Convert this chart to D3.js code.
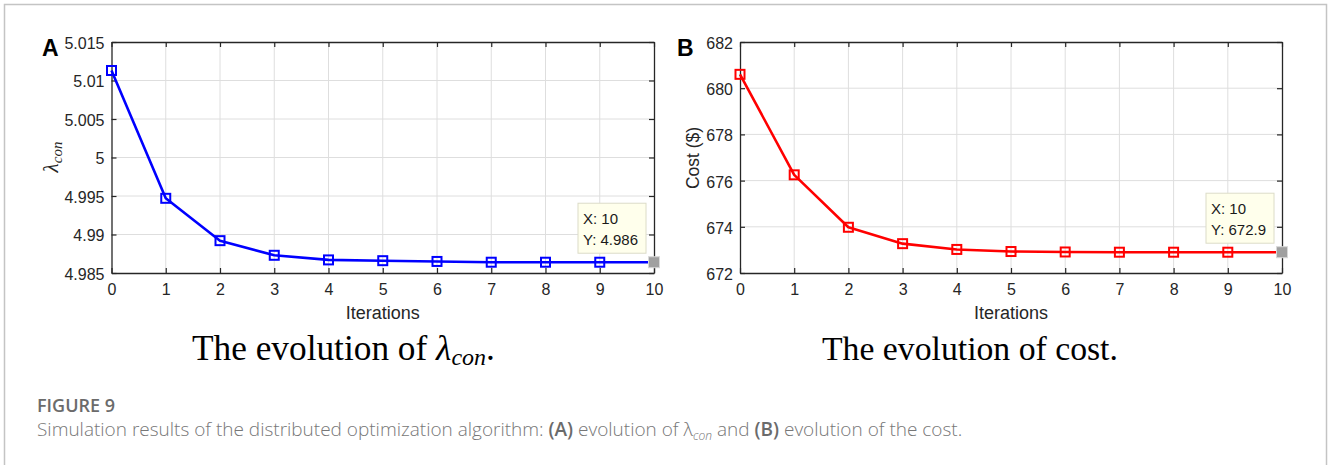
<!DOCTYPE html>
<html>
<head>
<meta charset="utf-8">
<script src="https://cdn.jsdelivr.net/npm/d3@7"></script>
<style>
  body { margin: 0; background: #fff; }
  svg { display: block; }
  .tick text { font-size: 16px; font-family: 'Liberation Sans', Arial, sans-serif; }
</style>
</head>
<body>
<svg id="fig" width="1328" height="465"></svg>
<script>
// values
let iterations = [0, 1, 2, 3, 4, 5, 6, 7, 8, 9, 10];
let lambdaCon = [5.0113, 4.9947, 4.9892, 4.9873, 4.9867, 4.9866, 4.9865, 4.9864, 4.9864, 4.9864, 4.9864];
let costValues = [680.6, 676.25, 673.98, 673.27, 673.02, 672.93, 672.91, 672.9, 672.9, 672.9, 672.9];
let xTicks = [0, 1, 2, 3, 4, 5, 6, 7, 8, 9, 10];
let lambdaTicks = [4.985, 4.99, 4.995, 5, 5.005, 5.01, 5.015];
let costTicks = [672, 674, 676, 678, 680, 682];
let tipLambda = ["X: 10", "Y: 4.986"];
let tipCost = ["X: 10", "Y: 672.9"];

let svg = d3.select("#fig");
let axisColor = "#262626";
let sans = "'Liberation Sans', Arial, sans-serif";
let serif = "'Liberation Serif', 'Times New Roman', serif";

// outer frame of the figure box
svg.append("rect")
    .attr("x", 4.5).attr("y", 4.5)
    .attr("width", 1322).attr("height", 480)
    .attr("fill", "none")
    .attr("stroke", "#c4c4c4")
    .attr("stroke-width", 1.5);

function panel(opt) {
    let x = d3.scaleLinear().domain([0, 10]).range([opt.left, opt.right]);
    let y = d3.scaleLinear().domain(opt.domain).range([273, 42]);
    let g = svg.append("g");

    // grid
    g.append("g").selectAll("line").data(xTicks.slice(1, -1)).enter().append("line")
        .attr("x1", d => x(d)).attr("x2", d => x(d))
        .attr("y1", 42).attr("y2", 273)
        .attr("stroke", "#dedede").attr("stroke-width", 1);
    g.append("g").selectAll("line").data(opt.ticks.slice(1, -1)).enter().append("line")
        .attr("x1", opt.left).attr("x2", opt.right)
        .attr("y1", d => y(d)).attr("y2", d => y(d))
        .attr("stroke", "#dedede").attr("stroke-width", 1);

    // axes, ticks pointing inward and mirrored on top/right
    let bottom = g.append("g").attr("transform", "translate(0,273)")
        .call(d3.axisBottom(x).tickValues(xTicks).tickSizeInner(-5).tickSizeOuter(0).tickPadding(11));
    let top = g.append("g").attr("transform", "translate(0,42)")
        .call(d3.axisTop(x).tickValues(xTicks).tickSizeInner(-5).tickSizeOuter(0).tickFormat(""));
    let leftAx = g.append("g").attr("transform", "translate(" + opt.left + ",0)")
        .call(d3.axisLeft(y).tickValues(opt.ticks).tickSizeInner(-5).tickSizeOuter(0).tickPadding(7).tickFormat(opt.fmt));
    let rightAx = g.append("g").attr("transform", "translate(" + opt.right + ",0)")
        .call(d3.axisRight(y).tickValues(opt.ticks).tickSizeInner(-5).tickSizeOuter(0).tickFormat(""));
    [bottom, top, leftAx, rightAx].forEach(a => {
        a.select(".domain").attr("stroke", axisColor).attr("stroke-width", 1.3);
        a.selectAll(".tick line").attr("stroke", axisColor).attr("stroke-width", 1.2);
        a.selectAll(".tick text").attr("fill", axisColor);
    });
    leftAx.selectAll(".tick text").attr("dy", "0.4em");
    bottom.selectAll(".tick text").attr("dy", "0.71em");

    // series
    let pts = iterations.map((d, i) => [d, opt.values[i]]);
    g.append("path")
        .datum(pts)
        .attr("d", d3.line().x(d => x(d[0])).y(d => y(d[1])))
        .attr("fill", "none")
        .attr("stroke", opt.color)
        .attr("stroke-width", 2.6)
        .attr("stroke-linejoin", "round");
    g.append("g").selectAll("rect").data(pts.slice(0, -1)).enter().append("rect")
        .attr("x", d => x(d[0]) - 4.5).attr("y", d => y(d[1]) - 4.5)
        .attr("width", 9).attr("height", 9)
        .attr("fill", "none")
        .attr("stroke", opt.color)
        .attr("stroke-width", 2);

    // data tip
    let last = pts[pts.length - 1];
    let mx = x(last[0]), my = y(last[1]);
    g.append("rect")
        .attr("x", mx - 5.5).attr("y", my - 5.5)
        .attr("width", 11).attr("height", 11)
        .attr("fill", "#a0a0a0").attr("stroke", "#d8d8d8").attr("stroke-width", 1);
    let bx = mx - 8 - 68, by = my - 9 - 50;
    g.append("rect")
        .attr("x", bx).attr("y", by)
        .attr("width", 68).attr("height", 50)
        .attr("fill", "#ffffec").attr("stroke", "#dcdcc8").attr("stroke-width", 1);
    g.selectAll(".tip").data(opt.tip).enter().append("text")
        .attr("x", bx + 5).attr("y", (d, i) => by + 21 + i * 21)
        .attr("fill", "#1a1a1a")
        .style("font-family", sans).style("font-size", "15px")
        .text(d => d);

    // x label
    g.append("text")
        .attr("x", (opt.left + opt.right) / 2).attr("y", 319)
        .attr("text-anchor", "middle")
        .attr("fill", axisColor)
        .style("font-family", sans).style("font-size", "18px")
        .text("Iterations");

    // panel letter
    g.append("text")
        .attr("x", opt.letterX).attr("y", 56)
        .attr("fill", "#000")
        .style("font-family", sans).style("font-size", "23px").style("font-weight", "bold")
        .text(opt.letter);
    return g;
}

let gA = panel({
    left: 111.5, right: 654, domain: [4.985, 5.015], ticks: lambdaTicks,
    values: lambdaCon, color: "#0000ff", tip: tipLambda,
    fmt: d => d3.format("")(d), letter: "A", letterX: 42
});
let gB = panel({
    left: 740, right: 1282, domain: [672, 682], ticks: costTicks,
    values: costValues, color: "#ff0000", tip: tipCost,
    fmt: d => d, letter: "B", letterX: 677
});

// y labels
let yl = gA.append("text")
    .attr("transform", "translate(58,157) rotate(-90)")
    .attr("text-anchor", "middle")
    .attr("fill", axisColor)
    .style("font-family", serif).style("font-style", "italic").style("font-size", "21px");
yl.append("tspan").text("λ");
yl.append("tspan").attr("dy", 4).style("font-size", "15px").text("con");

gB.append("text")
    .attr("transform", "translate(699,158) rotate(-90)")
    .attr("text-anchor", "middle")
    .attr("fill", axisColor)
    .style("font-family", sans).style("font-size", "17.5px")
    .text("Cost ($)");

// panel titles (serif, LaTeX-like)
function fitWidth(sel, target) {
    let w = sel.node().getComputedTextLength();
    let fs = parseFloat(sel.style("font-size"));
    sel.style("font-size", (fs * target / w) + "px");
}

let tA = svg.append("text")
    .attr("x", 192).attr("y", 360)
    .attr("fill", "#000")
    .style("font-family", serif).style("font-size", "34px");
tA.append("tspan").text("The evolution of ");
tA.append("tspan").style("font-style", "italic").text("λ");
tA.append("tspan").style("font-style", "italic").style("font-size", "0.68em").attr("dy", 5).text("con");
tA.append("tspan").attr("dy", -5).text(".");
fitWidth(tA, 303);

let tB = svg.append("text")
    .attr("x", 822).attr("y", 360)
    .attr("fill", "#000")
    .style("font-family", serif).style("font-size", "34px")
    .text("The evolution of cost.");
fitWidth(tB, 296);

// caption
svg.append("text")
    .attr("x", 37).attr("y", 412)
    .attr("fill", "#6b6b6b")
    .style("font-family", "'Open Sans', sans-serif").style("font-size", "18px").style("font-weight", 600)
    .text("FIGURE 9");

let cap = svg.append("text")
    .attr("x", 37).attr("y", 436)
    .attr("fill", "#777")
    .style("font-family", "'Open Sans', sans-serif").style("font-size", "17px").style("font-weight", 300);
cap.append("tspan").text("Simulation results of the distributed optimization algorithm: ");
cap.append("tspan").style("font-weight", 600).attr("fill", "#6b6b6b").text("(A)");
cap.append("tspan").text(" evolution of λ");
cap.append("tspan").style("font-style", "italic").style("font-size", "12px").attr("dy", 4).text("con");
cap.append("tspan").attr("dy", -4).text(" and ");
cap.append("tspan").style("font-weight", 600).attr("fill", "#6b6b6b").text("(B)");
cap.append("tspan").text(" evolution of the cost.");
fitWidth(cap, 928);
</script>
</body>
</html>
